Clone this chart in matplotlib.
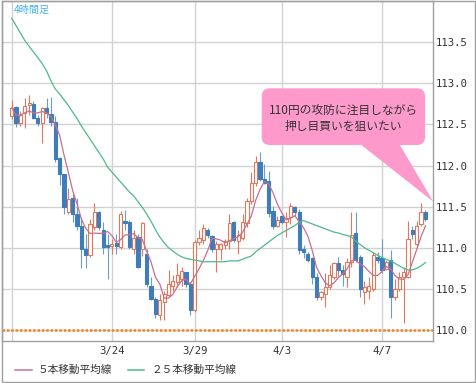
import numpy as np
import pandas as pd
import matplotlib
matplotlib.use("Agg")
import matplotlib.pyplot as plt
from matplotlib.lines import Line2D
from matplotlib.patches import FancyBboxPatch, Polygon, Rectangle

plt.rcParams['font.family'] = ['Noto Sans CJK JP', 'DejaVu Sans']

# 4h candles
opens = [112.60, 112.71, 112.52, 112.64, 112.73, 112.75, 112.58, 112.52, 112.70, 112.63,
         112.53, 112.09, 111.90, 111.43, 111.61, 111.41, 111.27, 110.99, 110.91, 111.25,
         111.44, 111.21, 111.03, 111.02, 111.06, 111.01, 111.33, 111.31, 110.99, 111.13,
         110.99, 110.93, 110.54, 110.38, 110.18, 110.34, 110.42, 110.54, 110.58, 110.62,
         110.70, 110.56, 110.24, 111.07, 111.10, 111.22, 111.14, 110.99, 110.98, 111.03,
         111.08, 111.31, 111.08, 111.12, 111.30, 111.57, 111.79, 112.04, 111.83, 111.81,
         111.45, 111.27, 111.38, 111.31, 111.37, 111.49, 111.43, 110.98, 110.93, 110.87,
         110.64, 110.40, 110.44, 110.52, 110.64, 110.81, 110.73, 110.64, 110.83, 111.18,
         110.89, 110.46, 110.48, 110.50, 110.89, 110.87, 110.74, 110.85, 110.40, 110.50,
         110.64, 110.64, 111.22, 111.04, 111.29, 111.43]
highs = [112.80, 112.72, 112.66, 112.82, 112.86, 112.78, 112.62, 112.71, 112.82, 112.83,
         112.60, 112.10, 111.90, 111.73, 111.65, 111.61, 111.37, 111.17, 111.35, 111.55,
         111.45, 111.31, 111.17, 111.11, 111.17, 111.45, 111.46, 111.34, 111.21, 111.17,
         111.31, 110.99, 110.65, 110.40, 110.44, 110.48, 110.73, 110.67, 110.81, 110.77,
         110.71, 110.58, 111.09, 111.21, 111.29, 111.24, 111.16, 111.08, 111.06, 111.11,
         111.41, 111.33, 111.22, 111.41, 111.61, 111.92, 112.12, 112.16, 112.02, 111.93,
         111.51, 111.39, 111.39, 111.43, 111.55, 111.51, 111.47, 111.03, 110.95, 110.89,
         110.69, 110.48, 110.69, 110.79, 110.83, 110.89, 110.79, 110.87, 111.43, 111.43,
         110.91, 110.60, 110.64, 110.95, 110.95, 111.11, 110.85, 110.97, 110.62, 110.70,
         110.77, 111.33, 111.27, 111.33, 111.55, 111.46]
lows = [112.56, 112.47, 112.48, 112.46, 112.62, 112.56, 112.48, 112.27, 112.58, 112.48,
        112.04, 111.76, 111.41, 111.41, 111.31, 111.21, 110.75, 110.75, 110.89, 111.21,
        111.21, 110.93, 110.62, 110.93, 110.93, 110.99, 111.21, 110.99, 110.93, 110.75,
        110.90, 110.52, 110.36, 110.14, 110.12, 110.12, 110.40, 110.48, 110.52, 110.54,
        110.52, 110.18, 110.22, 111.03, 111.05, 111.12, 110.95, 110.71, 110.85, 110.99,
        110.99, 111.07, 110.93, 111.09, 111.25, 111.53, 111.75, 111.81, 111.77, 111.37,
        111.23, 111.25, 111.29, 111.13, 111.29, 111.39, 110.93, 110.87, 110.83, 110.56,
        110.36, 110.36, 110.28, 110.50, 110.62, 110.66, 110.54, 110.52, 110.77, 110.83,
        110.40, 110.32, 110.38, 110.48, 110.81, 110.69, 110.73, 110.14, 110.36, 110.48,
        110.08, 110.63, 111.11, 111.02, 111.27, 111.33]
closes = [112.70, 112.52, 112.62, 112.72, 112.76, 112.58, 112.52, 112.70, 112.64, 112.53,
          112.08, 111.90, 111.49, 111.59, 111.41, 111.27, 110.99, 110.91, 111.29, 111.43,
          111.25, 111.01, 111.01, 111.04, 111.02, 111.41, 111.30, 111.01, 111.12, 110.77,
          111.30, 110.56, 110.38, 110.20, 110.36, 110.44, 110.56, 110.60, 110.67, 110.72,
          110.56, 110.24, 111.07, 111.12, 111.24, 111.16, 110.98, 111.04, 111.04, 111.08,
          111.30, 111.09, 111.16, 111.31, 111.57, 111.79, 112.04, 111.83, 111.79, 111.42,
          111.27, 111.34, 111.31, 111.36, 111.51, 111.43, 110.97, 110.95, 110.85, 110.64,
          110.40, 110.46, 110.52, 110.67, 110.81, 110.73, 110.68, 110.83, 111.15, 110.85,
          110.50, 110.52, 110.54, 110.91, 110.85, 110.73, 110.83, 110.40, 110.50, 110.64,
          110.71, 111.11, 111.17, 111.27, 111.43, 111.35]

# 25-bar moving average as drawn (needs bars before the window)
ma25 = [113.79, 113.70, 113.61, 113.52, 113.45, 113.38, 113.31, 113.24, 113.15, 113.03,
        112.93, 112.87, 112.80, 112.73, 112.65, 112.57, 112.48, 112.40, 112.32, 112.24,
        112.16, 112.08, 111.98, 111.92, 111.86, 111.80, 111.74, 111.68, 111.63, 111.56,
        111.49, 111.41, 111.32, 111.22, 111.13, 111.06, 111.00, 110.96, 110.92, 110.89,
        110.87, 110.86, 110.85, 110.84, 110.83, 110.83, 110.83, 110.83, 110.83, 110.83,
        110.84, 110.84, 110.84, 110.86, 110.88, 110.90, 110.95, 110.99, 111.03, 111.07,
        111.11, 111.15, 111.18, 111.21, 111.24, 111.27, 111.31, 111.33, 111.31, 111.29,
        111.27, 111.25, 111.23, 111.21, 111.19, 111.18, 111.16, 111.15, 111.13, 111.08,
        111.04, 111.00, 110.97, 110.94, 110.91, 110.88, 110.86, 110.84, 110.81, 110.78,
        110.75, 110.73, 110.73, 110.75, 110.78, 110.82]

tick_pos = [0, 23, 42, 62, 85]
tick_labels = ["", "3/24", "3/29", "4/3", "4/7"]
y_ticks = [110.0, 110.5, 111.0, 111.5, 112.0, 112.5, 113.0, 113.5]

df = pd.DataFrame({"open": opens, "high": highs, "low": lows, "close": closes})
df["ma5"] = df["close"].rolling(5, min_periods=1).mean()
df["ma25"] = ma25
x = np.arange(len(df))

up_col = "#e2775c"
dn_col = "#3f7dba"
W, H = 476, 383

fig = plt.figure(figsize=(W / 100, H / 100), dpi=100)
ax = fig.add_axes([1.7 / W, 1 - 340.7 / H, (433.3 - 1.7) / W, (340.7 - 1) / H])

up = df["close"] >= df["open"]
wick_cols = np.where(up, up_col, "#6b9ccc")
ax.vlines(x, df["low"], df["high"], colors=wick_cols, lw=0.8, zorder=3)
body_h = np.maximum((df["close"] - df["open"]).abs(), 0.006)
body_b = np.minimum(df["open"], df["close"])
ax.bar(x[up], body_h[up], bottom=body_b[up], width=0.74, color="white",
       edgecolor=up_col, linewidth=0.8, zorder=4)
ax.bar(x[~up], body_h[~up], bottom=body_b[~up], width=0.74, color=dn_col,
       edgecolor=dn_col, linewidth=0.8, zorder=4)

ax.plot(x, df["ma5"], color="#c9708c", lw=0.9, zorder=5)
ax.plot(x, df["ma25"], color="#4cba8a", lw=0.9, zorder=5)

ax.axhline(110.0, color="#f5821f", lw=1.8, linestyle=(0, (1, 0.75)), zorder=2)

ax.set_xlim(-2.3, len(df) - 1 + 1.8)
ax.set_ylim(109.87, 114.0)
ax.set_xticks(tick_pos)
ax.set_xticklabels(tick_labels)
ax.set_yticks(y_ticks)
ax.set_yticklabels([f"{v:.1f}" for v in y_ticks])
ax.yaxis.tick_right()
ax.tick_params(length=0, colors="#333333", labelsize=7.7, pad=1.5)
ax.tick_params(axis="x", pad=4)
for lab in ax.get_xticklabels() + ax.get_yticklabels():
    lab.set_family("DejaVu Sans Mono")
ax.grid(True, color="#d2d2d2", lw=1)
ax.set_axisbelow(True)
for s in ax.spines.values():
    s.set_color("#a0a0a0")
    s.set_linewidth(1)

ax.text(12 / 431.6, 1 - 8.5 / 339.7, "4時間足", transform=ax.transAxes, color="#45b0ea",
        fontsize=7.3, ha="left", va="center")

# callout bubble (pixel positions -> inches)
def px(xp, yp):
    return (xp / 100, (H - yp) / 100)

pink = "#fd9acb"
box = FancyBboxPatch(px(261.7, 145), 1.633, 0.567, boxstyle="round,pad=0,rounding_size=0.08",
                     transform=fig.dpi_scale_trans, facecolor=pink, edgecolor="none", zorder=6)
fig.add_artist(box)
tail = Polygon([px(355, 140), px(397, 140), px(433.3, 201.7)], closed=True,
               transform=fig.dpi_scale_trans, facecolor=pink, edgecolor="none", zorder=6)
fig.add_artist(tail)
fig.text(343.4 / W, 1 - 110 / H, "110円の攻防に注目しながら", ha="center", va="center",
         fontsize=8.5, color="#333333", zorder=7)
fig.text(343.4 / W, 1 - 126.5 / H, "押し目買いを狙いたい", ha="center", va="center",
         fontsize=8.5, color="#333333", zorder=7)

# legend below the chart
ly = 1 - 370 / H
fig.add_artist(Line2D([15 / W, 32 / W], [ly, ly], color="#c9708c", lw=1.1))
fig.text(38 / W, ly, "５本移動平均線", ha="left", va="center", fontsize=7.7, color="#333333")
fig.add_artist(Line2D([128 / W, 144 / W], [ly, ly], color="#4cba8a", lw=1.1))
fig.text(151 / W, ly, "２５本移動平均線", ha="left", va="center", fontsize=7.7, color="#333333")

fig.add_artist(Rectangle((1.5 / W, 1.2 / H), 473.5 / W, 380.5 / H, fill=False,
                         edgecolor="#a0a0a0", lw=1, transform=fig.transFigure))

fig.savefig("out.png", dpi=100)
